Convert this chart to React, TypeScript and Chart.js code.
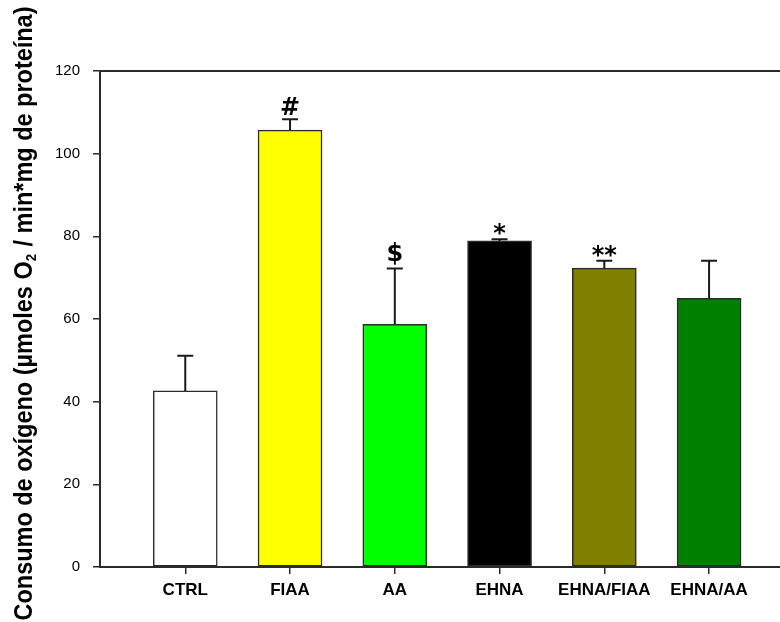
import React, { useEffect, useRef } from "react";
import { Chart, registerables } from "chart.js";

Chart.register(...registerables);

// Oxygen consumption per treatment group (mean and upper error limit)
const groups = ["CTRL", "FIAA", "AA", "EHNA", "EHNA/FIAA", "EHNA/AA"];
const meanValues = [42.6, 105.7, 58.7, 78.9, 72.3, 65.0];
const upperError = [51.1, 108.3, 72.2, 79.3, 74.1, 74.1];
const significance = ["", "#", "$", "*", "**", ""];
const barColors = ["#FFFFFF", "#FFFF00", "#00FF00", "#000000", "#808000", "#008000"];
const yTicks = [0, 20, 40, 60, 80, 100, 120];

const FONT = "'Liberation Sans', Arial, Helvetica, sans-serif";
const MARK_FONT = "'DejaVu Sans', 'Liberation Sans', sans-serif";
const AXIS_COLOR = "#2b2b2b";

// Upper error bars with caps, plus significance symbols above them
const errorBarPlugin = {
  id: "errorBars",
  afterDatasetsDraw(chart: any) {
    const ctx = chart.ctx;
    const meta = chart.getDatasetMeta(0);
    const yScale = chart.scales.y;
    ctx.save();
    meta.data.forEach((bar: any, i: number) => {
      const x = bar.x;
      const yTop = yScale.getPixelForValue(upperError[i]);
      const yBar = bar.y;
      ctx.strokeStyle = "#1a1a1a";
      ctx.lineWidth = 2;
      ctx.beginPath();
      ctx.moveTo(x, yBar);
      ctx.lineTo(x, yTop);
      ctx.moveTo(x - 8, yTop);
      ctx.lineTo(x + 8, yTop);
      ctx.stroke();

      const mark = significance[i];
      if (mark) {
        ctx.font = `bold 24px ${MARK_FONT}`;
        ctx.fillStyle = "#000";
        ctx.textAlign = "center";
        ctx.textBaseline = "alphabetic";
        const m = ctx.measureText(mark);
        const gap = 4;
        ctx.fillText(mark, x, yTop - gap - m.actualBoundingBoxDescent);
      }
    });
    ctx.restore();
  },
};

// Top frame line and rotated y-axis title with subscript
const framePlugin = {
  id: "frame",
  afterDraw(chart: any) {
    const ctx = chart.ctx;
    const area = chart.chartArea;
    const yScale = chart.scales.y;
    const yMax = yScale.getPixelForValue(yTicks[yTicks.length - 1]);
    ctx.save();
    ctx.strokeStyle = AXIS_COLOR;
    ctx.lineWidth = 2;
    ctx.beginPath();
    ctx.moveTo(area.left, yMax);
    ctx.lineTo(area.right, yMax);
    ctx.stroke();
    ctx.restore();

    const part1 = "Consumo de oxígeno (µmoles O";
    const sub = "2";
    const part2 = " / min*mg de proteína)";
    const mainFont = `bold 25px ${FONT}`;
    const subFont = `bold 14px ${FONT}`;
    ctx.save();
    ctx.font = mainFont;
    const w1 = ctx.measureText(part1).width;
    const w3 = ctx.measureText(part2).width;
    ctx.font = subFont;
    const w2 = ctx.measureText(sub).width + 1;
    const total = w1 + w2 + w3;
    const targetLen = 614;
    const sx = targetLen / total;
    ctx.translate(32, 313.5);
    ctx.rotate(-Math.PI / 2);
    ctx.scale(sx, 1);
    ctx.fillStyle = "#000";
    ctx.textBaseline = "alphabetic";
    ctx.textAlign = "left";
    let cx = -total / 2;
    ctx.font = mainFont;
    ctx.fillText(part1, cx, 0);
    cx += w1;
    ctx.font = subFont;
    ctx.fillText(sub, cx, 4);
    cx += w2;
    ctx.font = mainFont;
    ctx.fillText(part2, cx, 0);
    ctx.restore();
  },
};

export default function App() {
  const canvasRef = useRef<HTMLCanvasElement | null>(null);

  useEffect(() => {
    const canvas = canvasRef.current;
    if (!canvas) return;
    const positions = groups.map((_, i) => i + 1);
    const chart = new Chart(canvas, {
      type: "bar",
      data: {
        datasets: [
          {
            data: positions.map((p, i) => ({ x: p, y: meanValues[i] })),
            backgroundColor: barColors,
            borderColor: "#2b2b2b",
            borderWidth: 1.5,
            borderSkipped: false,
            barThickness: 64,
          },
        ],
      },
      options: {
        animation: false,
        responsive: false,
        devicePixelRatio: 1,
        layout: { padding: { top: 71, right: 0, bottom: 0, left: 0 } },
        plugins: {
          legend: { display: false },
          tooltip: { enabled: false },
        },
        scales: {
          x: {
            type: "linear",
            offset: false,
            min: 0.186,
            max: 6.677,
            afterBuildTicks: (scale: any) => {
              scale.ticks = positions.map((v) => ({ value: v }));
            },
            afterFit: (scale: any) => {
              scale.height = 55;
            },
            ticks: {
              autoSkip: false,
              maxRotation: 0,
              padding: 6,
              color: "#000",
              font: { family: FONT, size: 17, weight: "bold" },
              callback: (v: any) => groups[Math.round(Number(v)) - 1] ?? "",
            },
            grid: {
              offset: false,
              drawOnChartArea: false,
              drawTicks: true,
              tickLength: 7,
              color: AXIS_COLOR,
              lineWidth: 1.5,
            },
            border: { display: true, color: AXIS_COLOR, width: 2 },
          },
          y: {
            min: 0,
            max: 120,
            afterBuildTicks: (scale: any) => {
              scale.ticks = yTicks.map((v) => ({ value: v }));
            },
            afterFit: (scale: any) => {
              scale.width = 100;
            },
            ticks: {
              padding: 13,
              color: "#000",
              font: { family: FONT, size: 15 },
            },
            grid: {
              drawOnChartArea: false,
              drawTicks: true,
              tickLength: 7,
              color: AXIS_COLOR,
              lineWidth: 1.5,
            },
            border: { display: true, color: AXIS_COLOR, width: 2 },
          },
        },
      },
      plugins: [errorBarPlugin, framePlugin],
    });
    return () => chart.destroy();
  }, []);

  return (
    <div style={{ position: "absolute", left: 0, top: 0, width: 780, height: 622, background: "#fff" }}>
      <canvas ref={canvasRef} width={780} height={622} />
    </div>
  );
}
